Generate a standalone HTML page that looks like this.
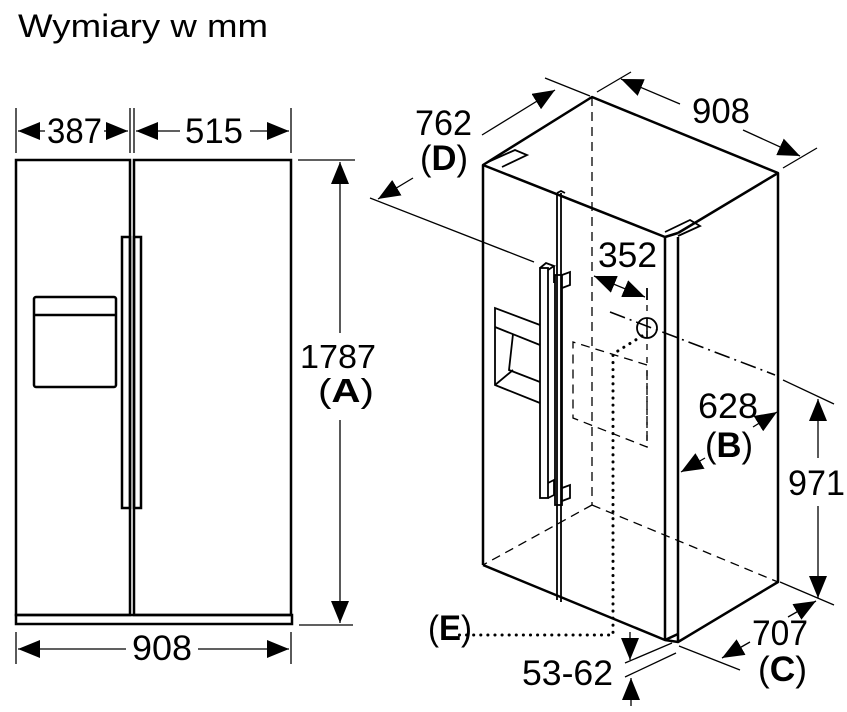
<!DOCTYPE html>
<html><head><meta charset="utf-8"><style>
html,body{margin:0;padding:0;background:#fff;}
svg{display:block;}
text{font-family:"Liberation Sans",Arial,sans-serif;fill:#000;}
</style></head><body>
<svg width="847" height="712" viewBox="0 0 847 712" xmlns="http://www.w3.org/2000/svg">
<defs>
<marker id="b" viewBox="0 0 10 10" refX="10" refY="5" markerWidth="22" markerHeight="18" markerUnits="userSpaceOnUse" orient="auto-start-reverse" preserveAspectRatio="none"><path d="M0,0 L10,5 L0,10 z" fill="#000"/></marker>
</defs>
<text x="18" y="37" font-size="32" textLength="250" lengthAdjust="spacingAndGlyphs">Wymiary w mm</text>

<!-- Left front view -->
<g fill="none" stroke="#000" stroke-width="2.5">
<rect x="16" y="160" width="114" height="455"/>
<rect x="134" y="160" width="157" height="455"/>
<rect x="16" y="615" width="276" height="9"/>
<rect x="122" y="237" width="8" height="271"/>
<rect x="134" y="237" width="7" height="271"/>
<rect x="34" y="297" width="82" height="90" rx="2"/>
<line x1="34" y1="315" x2="116" y2="315"/>
</g>
<g stroke="#000" stroke-width="1.3" fill="none">
<line x1="16" y1="108" x2="16" y2="153"/>
<line x1="130" y1="108" x2="130" y2="153"/>
<line x1="134" y1="108" x2="134" y2="153"/>
<line x1="291" y1="108" x2="291" y2="153"/>
<line x1="45" y1="131" x2="18" y2="131" marker-end="url(#b)"/>
<line x1="104" y1="131" x2="128" y2="131" marker-end="url(#b)"/>
<line x1="180" y1="131" x2="136" y2="131" marker-end="url(#b)"/>
<line x1="250" y1="131" x2="289" y2="131" marker-end="url(#b)"/>
<line x1="298" y1="160" x2="355" y2="160"/>
<line x1="299" y1="625" x2="353" y2="625"/>
<line x1="340" y1="333" x2="340" y2="162" marker-end="url(#b)"/>
<line x1="340" y1="420" x2="340" y2="623" marker-end="url(#b)"/>
<line x1="16" y1="632" x2="16" y2="664"/>
<line x1="291" y1="632" x2="291" y2="664"/>
<line x1="126" y1="649" x2="18" y2="649" marker-end="url(#b)"/>
<line x1="198" y1="649" x2="289" y2="649" marker-end="url(#b)"/>
</g>
<rect x="296" y="338" width="86" height="72" fill="#fff"/>
<g font-size="35">
<text x="47" y="143" textLength="55" lengthAdjust="spacingAndGlyphs">387</text>
<text x="185" y="143" textLength="58" lengthAdjust="spacingAndGlyphs">515</text>
<text x="300" y="368" font-size="33" textLength="76" lengthAdjust="spacingAndGlyphs">1787</text>
<text x="318" y="402" font-size="33" textLength="56" lengthAdjust="spacingAndGlyphs">(<tspan font-weight="bold">A</tspan>)</text>
<text x="132" y="660" textLength="60" lengthAdjust="spacingAndGlyphs">908</text>
</g>

<!-- Isometric -->
<g fill="none" stroke="#000" stroke-width="2.5" stroke-linejoin="round">
<polyline points="483,565 483,165 592,97 778,173 778,582 678,642 665,640 483,565"/>
<line x1="483" y1="165" x2="665" y2="237"/>
<line x1="665" y1="237" x2="665" y2="640"/>
<line x1="678" y1="237" x2="678" y2="642"/>
<line x1="678" y1="233" x2="778" y2="173"/>
<line x1="665" y1="237" x2="678" y2="233"/>
<line x1="665" y1="640" x2="678" y2="634"/>
</g>
<g fill="none" stroke="#000" stroke-width="1.8">
<line x1="557" y1="193" x2="557" y2="600"/>
<line x1="561" y1="193" x2="561" y2="602"/>
<polyline points="557,193 561,191 565,193"/>
<polyline points="488,162 515,150 527,155 502,167"/>
<polyline points="665,232 690,220 700,226 678,236"/>
<rect x="540" y="268" width="8" height="230"/>
<polyline points="540,268 546,263 554,266 548,270"/>
<line x1="554" y1="266" x2="554" y2="283"/>
<polyline points="548,483 554,480 554,495 548,498"/>
<rect x="555" y="275" width="7" height="230"/>
<polyline points="562,275 570,272 570,285 562,288"/>
<polyline points="562,488 570,485 570,498 562,501"/>
<polyline points="540,325 495,308 495,385 540,403"/>
<line x1="495" y1="327" x2="540" y2="345"/>
<polyline points="513,334 509,370 540,382"/>
<line x1="495" y1="385" x2="513" y2="370"/>
</g>
<!-- hidden lines -->
<g fill="none" stroke="#000" stroke-width="1.3" stroke-dasharray="9,6">
<line x1="592" y1="97" x2="592" y2="505"/>
<line x1="592" y1="505" x2="483" y2="565"/>
<line x1="592" y1="505" x2="778" y2="582"/>
<polyline points="647,365 573,342 573,418 647,447 647,365"/>
<line x1="647" y1="305" x2="647" y2="447" stroke-dasharray="6,7"/>
</g>
<line x1="647" y1="288" x2="647" y2="300" stroke="#000" stroke-width="1.8"/>
<line x1="610" y1="312" x2="775" y2="375" stroke="#000" stroke-width="1.6" stroke-dasharray="16,5,2,5"/>
<circle cx="647" cy="328" r="10" fill="none" stroke="#000" stroke-width="1.8"/>
<line x1="647" y1="318" x2="647" y2="338" stroke="#000" stroke-width="1.5"/>
<polyline points="642,336 613,354 613,635 455,635" fill="none" stroke="#000" stroke-width="3" stroke-dasharray="0.1,7" stroke-linecap="round"/>

<!-- dims iso -->
<g stroke="#000" stroke-width="1.3" fill="none">
<line x1="370" y1="198" x2="534" y2="262"/>
<line x1="545" y1="78" x2="590" y2="96"/>
<line x1="482" y1="135" x2="555" y2="90" marker-end="url(#b)"/>
<line x1="413" y1="178" x2="378" y2="199" marker-end="url(#b)"/>
<line x1="597" y1="92" x2="631" y2="72"/>
<line x1="783" y1="168" x2="817" y2="148"/>
<line x1="680" y1="104" x2="621" y2="79" marker-end="url(#b)"/>
<line x1="743" y1="130" x2="800" y2="156" marker-end="url(#b)"/>
<line x1="594" y1="276" x2="645" y2="297" marker-start="url(#b)" marker-end="url(#b)"/>
<line x1="753" y1="427" x2="777" y2="412" marker-end="url(#b)"/>
<line x1="705" y1="458" x2="681" y2="472" marker-end="url(#b)"/>
<line x1="783" y1="380" x2="834" y2="404"/>
<line x1="780" y1="582" x2="834" y2="605"/>
<line x1="818" y1="458" x2="818" y2="399" marker-end="url(#b)"/>
<line x1="818" y1="506" x2="818" y2="598" marker-end="url(#b)"/>
<line x1="679" y1="646" x2="740" y2="670"/>
<line x1="788" y1="617" x2="816" y2="601" marker-end="url(#b)"/>
<line x1="750" y1="642" x2="722" y2="658" marker-end="url(#b)"/>
<line x1="625" y1="663" x2="672" y2="643"/>
<line x1="625" y1="677" x2="676" y2="653"/>
<line x1="630" y1="632" x2="630" y2="660" marker-end="url(#b)"/>
<line x1="631" y1="706" x2="631" y2="678" marker-end="url(#b)"/>
</g>
<g font-size="35">
<text x="415" y="135" textLength="57" lengthAdjust="spacingAndGlyphs">762</text>
<text x="420" y="170" textLength="48" lengthAdjust="spacingAndGlyphs">(<tspan font-weight="bold">D</tspan>)</text>
<text x="692" y="123" textLength="58" lengthAdjust="spacingAndGlyphs">908</text>
<text x="598" y="267" textLength="59" lengthAdjust="spacingAndGlyphs">352</text>
<text x="698" y="418" textLength="60" lengthAdjust="spacingAndGlyphs">628</text>
<text x="705" y="457" textLength="48" lengthAdjust="spacingAndGlyphs">(<tspan font-weight="bold">B</tspan>)</text>
<text x="788" y="495" textLength="57" lengthAdjust="spacingAndGlyphs">971</text>
<text x="752" y="645" textLength="56" lengthAdjust="spacingAndGlyphs">707</text>
<text x="758" y="681" textLength="49" lengthAdjust="spacingAndGlyphs">(<tspan font-weight="bold">C</tspan>)</text>
<text x="428" y="640" textLength="44" lengthAdjust="spacingAndGlyphs">(<tspan font-weight="bold">E</tspan>)</text>
<text x="522" y="685" textLength="91" lengthAdjust="spacingAndGlyphs">53-62</text>
</g>
</svg>
</body></html>
